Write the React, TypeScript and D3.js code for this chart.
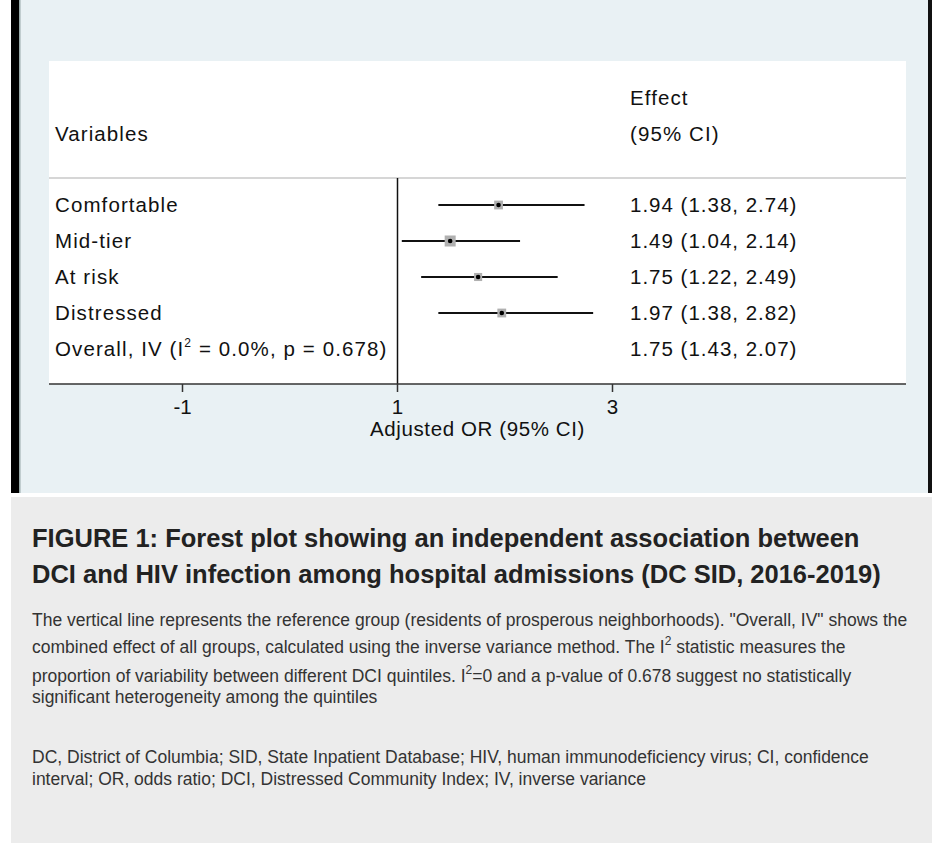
import React from "react";
import * as d3 from "d3";

const categories = ["Comfortable", "Mid-tier", "At risk", "Distressed"];
const estimates = [1.94, 1.49, 1.75, 1.97];
const lowerCI = [1.38, 1.04, 1.22, 1.38];
const upperCI = [2.74, 2.14, 2.49, 2.82];
const weights = [0.24, 0.3, 0.22, 0.24];
const effectLabels = ["1.94 (1.38, 2.74)", "1.49 (1.04, 2.14)", "1.75 (1.22, 2.49)", "1.97 (1.38, 2.82)"];
const overallLabel = "1.75 (1.43, 2.07)";
const xTicks = [-1, 1, 3];
const xTickLabels = ["-1", "1", "3"];

const FONT = "'Liberation Sans', Arial, Helvetica, sans-serif";

export default function App() {
  const W = 932, H = 843;
  const plotL = 49, plotR = 906, plotT = 61, axisY = 384;
  const x = d3.scaleLinear().domain([-1, 3]).range([182.5, 612.5]);
  const rowNames = [...categories, "overall"];
  const y = d3.scalePoint<string>().domain(rowNames).range([205, 349]);
  const size = d3.scaleLinear().domain([0, 0.3]).range([0, 11]);
  const labelStyle = { fontFamily: FONT, fontSize: 20.5, letterSpacing: 1.1, fill: "#111" } as const;
  const numStyle = { fontFamily: FONT, fontSize: 20.5, letterSpacing: 1.0, fill: "#111" } as const;

  const bodyStyle = { fontFamily: FONT, fontSize: 17.5, fill: "#333" } as const;
  const titleStyle = { fontFamily: FONT, fontSize: 25.5, fontWeight: "bold", fill: "#222" } as const;

  return (
    <div style={{ position: "absolute", left: 0, top: 0 }}>
      <svg width={W} height={H} style={{ display: "block" }}>
        <rect x={0} y={0} width={W} height={H} fill="#ffffff" />
        {/* top panel */}
        <rect x={11} y={0} width={921} height={493} fill="#e9f1f4" />
        <rect x={11} y={0} width={8} height={493} fill="#000" />
        <rect x={19} y={0} width={1.5} height={493} fill="#9aa" />
        <rect x={928} y={0} width={4} height={493} fill="#111" />
        {/* white plot region */}
        <rect x={plotL} y={plotT} width={plotR - plotL} height={axisY - plotT} fill="#fff" />
        {/* headers */}
        <text x={55} y={141} style={labelStyle}>Variables</text>
        <text x={630} y={105} style={labelStyle}>Effect</text>
        <text x={630} y={141} style={labelStyle}>(95% CI)</text>
        <line x1={plotL} x2={plotR} y1={178} y2={178} stroke="#c8c8c8" strokeWidth={1.5} />
        {/* reference line */}
        <line x1={x(1)} x2={x(1)} y1={178} y2={axisY} stroke="#111" strokeWidth={1.5} />
        {/* rows */}
        {categories.map((c, i) => {
          const cy = y(c) as number;
          const s = size(weights[i]);
          return (
            <g key={c}>
              <text x={55} y={cy + 7} style={labelStyle}>{c}</text>
              <line x1={x(lowerCI[i])} x2={x(upperCI[i])} y1={cy} y2={cy} stroke="#111" strokeWidth={2.2} />
              <rect x={x(estimates[i]) - s / 2} y={cy - s / 2} width={s} height={s} fill="#b0b0b0" />
              <circle cx={x(estimates[i])} cy={cy} r={2.3} fill="#000" />
              <text x={630} y={cy + 7} style={numStyle}>{effectLabels[i]}</text>
            </g>
          );
        })}
        <text x={55} y={(y("overall") as number) + 7} style={labelStyle}>
          <tspan>Overall, IV (I</tspan>
          <tspan fontSize={12} dy={-9}>2</tspan>
          <tspan dy={9}> = 0.0%, p = 0.678)</tspan>
        </text>
        <text x={630} y={(y("overall") as number) + 7} style={numStyle}>{overallLabel}</text>
        {/* axis */}
        <line x1={plotL} x2={plotR} y1={axisY} y2={axisY} stroke="#333" strokeWidth={1.5} />
        {xTicks.map((t, i) => (
          <g key={t}>
            <line x1={x(t)} x2={x(t)} y1={axisY} y2={axisY + 8} stroke="#333" strokeWidth={1.5} />
            <text x={x(t)} y={414} textAnchor="middle" style={{ ...numStyle, letterSpacing: 0 }}>{xTickLabels[i]}</text>
          </g>
        ))}
        <text x={(plotL + plotR) / 2} y={436} textAnchor="middle" style={{ ...labelStyle, letterSpacing: 0.6 }}>
          Adjusted OR (95% CI)
        </text>

        {/* caption panel */}
        <rect x={11} y={497} width={921} height={346} fill="#ececec" />
        <text x={32} y={547} style={titleStyle}>
          FIGURE 1: Forest plot showing an independent association between
        </text>
        <text x={32} y={583} style={titleStyle}>
          DCI and HIV infection among hospital admissions (DC SID, 2016-2019)
        </text>
        <text x={32} y={626} style={bodyStyle}>
          The vertical line represents the reference group (residents of prosperous neighborhoods). "Overall, IV" shows the
        </text>
        <text x={32} y={653} style={bodyStyle}>
          <tspan>combined effect of all groups, calculated using the inverse variance method. The I</tspan>
          <tspan fontSize={12} dy={-8}>2</tspan>
          <tspan dy={8}> statistic measures the</tspan>
        </text>
        <text x={32} y={682} style={bodyStyle}>
          <tspan>proportion of variability between different DCI quintiles. I</tspan>
          <tspan fontSize={12} dy={-8}>2</tspan>
          <tspan dy={8}>=0 and a p-value of 0.678 suggest no statistically</tspan>
        </text>
        <text x={32} y={703} style={bodyStyle}>significant heterogeneity among the quintiles</text>
        <text x={32} y={763} style={bodyStyle}>
          DC, District of Columbia; SID, State Inpatient Database; HIV, human immunodeficiency virus; CI, confidence
        </text>
        <text x={32} y={785} style={bodyStyle}>
          interval; OR, odds ratio; DCI, Distressed Community Index; IV, inverse variance
        </text>
      </svg>
    </div>
  );
}
